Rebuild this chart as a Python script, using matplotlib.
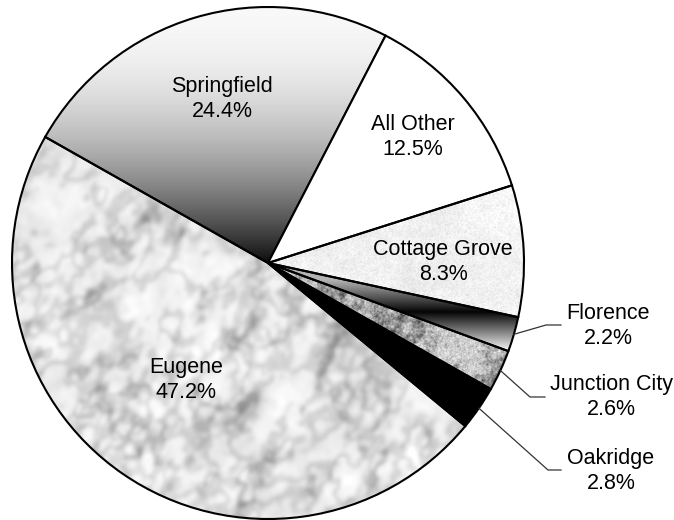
import numpy as np
import matplotlib.pyplot as plt

plt.rcParams['font.family'] = ['Liberation Sans', 'DejaVu Sans']

# data: share of county total by city
cities = ["Springfield", "All Other", "Cottage Grove", "Florence",
          "Junction City", "Oakridge", "Eugene"]
shares = [24.4, 12.5, 8.3, 2.2, 2.6, 2.8, 47.2]

# layout in pixels of the 674x520 image (x from left, y from top)
CX, CY, R = 268, 263, 256
W, H = 674, 520
inside_pos = {"Springfield": (222, 99), "All Other": (413, 137),
              "Cottage Grove": (443, 262), "Eugene": (186, 380)}
outside_pos = {"Florence": (608, 326), "Junction City": (611, 397),
               "Oakridge": (611, 471)}
elbow_pos = {"Florence": [(546, 325), (561, 325)],
             "Junction City": [(530, 397), (545, 397)],
             "Oakridge": [(548, 470), (561, 470)]}


def px(x, y):
    return (x - CX) / R, (CY - y) / R


# ---- textures (styling only) ----
N = 512
gx, gy = np.meshgrid(np.linspace(CX - R, CX + R, N), np.linspace(CY - R, CY + R, N))
fy = np.fft.fftfreq(N)[:, None]
fx = np.fft.fftfreq(N)[None, :]


def noise_field(seed, beta, stretch=1.0, angle=0.0, blur=0.0):
    rng = np.random.default_rng(seed)
    white = rng.standard_normal((N, N))
    c, s = np.cos(angle), np.sin(angle)
    u = fx * c + fy * s
    v = -fx * s + fy * c
    f = np.sqrt(u ** 2 + (v * stretch) ** 2)
    f[0, 0] = 1.0
    filt = 1 / f ** beta
    if blur:
        filt = filt * np.exp(-(np.sqrt(fx ** 2 + fy ** 2) * blur) ** 2)
    field = np.real(np.fft.ifft2(np.fft.fft2(white) * filt))
    return (field - field.mean()) / field.std()


def soften(img, sigma):
    g = np.exp(-2 * (np.pi * sigma) ** 2 * (fx ** 2 + fy ** 2))
    return np.real(np.fft.ifft2(np.fft.fft2(img) * g))


# marble for Eugene
marble = np.full((N, N), 0.95)
for k in range(3):
    v = noise_field(10 + k, 1.3, stretch=1.6, angle=0.6, blur=10)
    marble -= 0.13 * np.exp(-(v / 0.32) ** 2)
m = noise_field(3, 1.0, blur=8)
marble += 0.025 * m
marble = np.clip(soften(marble, 1.8), 0, 1)

# light speckle for Cottage Grove
s1 = noise_field(4, 0.3, blur=1.5)
s2 = noise_field(5, 1.2, blur=3)
speckle = np.clip(0.945 + 0.02 * s1 + 0.012 * s2 - 0.05 * np.clip(s1 - 1.8, 0, None), 0, 1)

# granite for Junction City
g1 = noise_field(6, 1.0, blur=3)
g2 = noise_field(7, 0.4, blur=1.5)
granite = np.clip(0.80 + 0.05 * g2 - 0.16 * np.clip(g1 + 0.2, 0, None), 0, 1)

# gradients
t = np.clip((gy - 7) / 256, 0, 1)
grad_spring = 0.97 - 0.92 * t ** 2
grad_flor = np.interp(gy, [280, 312, 352], [0.7, 0.02, 1.0])

textures = {"Springfield": grad_spring, "Cottage Grove": speckle,
            "Florence": grad_flor, "Junction City": granite, "Eugene": marble}
solid = {"All Other": "white", "Oakridge": "black"}

fig = plt.figure(figsize=(W / 100, H / 100), dpi=100)
ax = fig.add_axes([0, 0, 1, 1])

wedges, _ = ax.pie(shares, startangle=150.5, counterclock=False, radius=1,
                   wedgeprops=dict(edgecolor='black', linewidth=1.5))

for w, name in zip(wedges, cities):
    w.set_zorder(2)
    if name in textures:
        w.set_facecolor('none')
        im = ax.imshow(textures[name], cmap='gray', vmin=0, vmax=1,
                       extent=(-1, 1, -1, 1), origin='upper',
                       interpolation='bilinear', zorder=1)
        im.set_clip_path(w)
    else:
        w.set_facecolor(solid[name])

for name, share in zip(cities, shares):
    label = f"{name}\n{share:.1f}%"
    if name in inside_pos:
        x, y = px(*inside_pos[name])
    else:
        w = wedges[cities.index(name)]
        mid = np.deg2rad((w.theta1 + w.theta2) / 2)
        pts = [(np.cos(mid), np.sin(mid))] + [px(*p) for p in elbow_pos[name]]
        xs, ys = zip(*pts)
        ax.plot(xs, ys, color='#333333', lw=0.9, zorder=3)
        x, y = px(*outside_pos[name])
    ax.text(x, y, label, ha='center', va='center', fontsize=15.5,
            linespacing=1.3, zorder=3)

ax.set_aspect('auto')
ax.set_xlim((0 - CX) / R, (W - CX) / R)
ax.set_ylim((CY - H) / R, CY / R)
ax.axis('off')

fig.savefig("out.png", dpi=100)
